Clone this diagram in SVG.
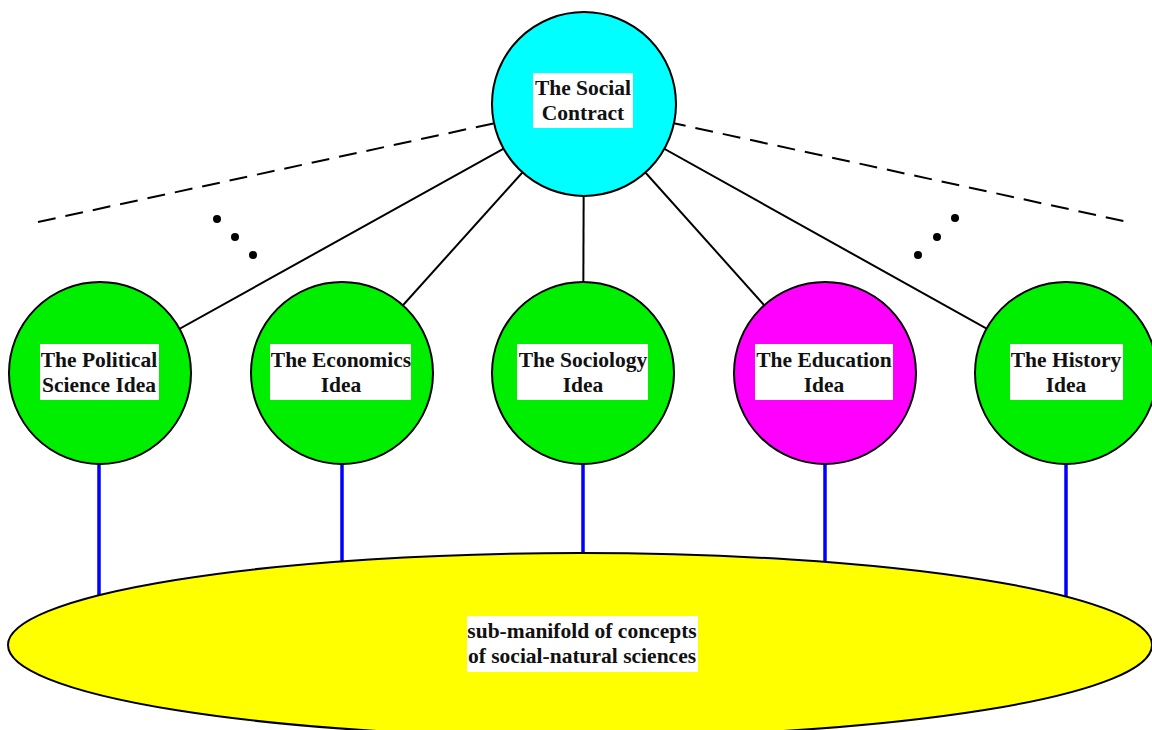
<svg xmlns="http://www.w3.org/2000/svg" width="1152" height="730" viewBox="0 0 1152 730">
<style>
.node{stroke:#000;stroke-width:2}
.lbl{font-family:"Liberation Serif","Times New Roman",serif;font-weight:bold;font-size:21.5px;fill:#111;text-anchor:middle}
.box{fill:#fff}
.edge{stroke:#000;stroke-width:2;fill:none}
.dash{stroke:#000;stroke-width:2;stroke-dasharray:18 10;fill:none}
.blue{stroke:#0000ff;stroke-width:3.5}
.dot{fill:#000}
</style>
<rect width="1152" height="730" fill="#fff"/>
<g id="connectors">
<line class="dash" x1="38" y1="222" x2="500" y2="122"/>
<line class="dash" x1="668" y1="122" x2="1128" y2="222"/>
<line class="edge" x1="584" y1="104" x2="100" y2="373"/>
<line class="edge" x1="584" y1="104" x2="342" y2="373"/>
<line class="edge" x1="584" y1="104" x2="583" y2="373"/>
<line class="edge" x1="584" y1="104" x2="825" y2="373"/>
<line class="edge" x1="584" y1="104" x2="1066" y2="373"/>
<line class="blue" x1="99" y1="464" x2="99" y2="600"/>
<line class="blue" x1="342" y1="464" x2="342" y2="566"/>
<line class="blue" x1="583" y1="464" x2="583" y2="558"/>
<line class="blue" x1="825" y1="464" x2="825" y2="566"/>
<line class="blue" x1="1066" y1="464" x2="1066" y2="600"/>
<circle class="dot" cx="217" cy="219" r="4"/>
<circle class="dot" cx="235" cy="237" r="4"/>
<circle class="dot" cx="253" cy="255" r="4"/>
<circle class="dot" cx="955" cy="218" r="4"/>
<circle class="dot" cx="937" cy="237" r="4"/>
<circle class="dot" cx="918" cy="255" r="4"/>
</g>
<g id="manifold">
<ellipse class="node" cx="580" cy="645" rx="572" ry="92" fill="#ffff00"/>
<rect class="box" x="467" y="616" width="231" height="56"/>
<text class="lbl" x="582" y="638">sub-manifold of concepts</text>
<text class="lbl" x="582" y="663">of social-natural sciences</text>
</g>
<g id="social-contract">
<circle class="node" cx="584" cy="104" r="92" fill="#00ffff"/>
<rect class="box" x="533" y="73" width="100" height="55"/>
<text class="lbl" x="583" y="95">The Social</text>
<text class="lbl" x="583" y="120">Contract</text>
</g>
<g id="political">
<circle class="node" cx="100" cy="373" r="91" fill="#00ee00"/>
<rect class="box" x="40" y="344" width="119" height="56"/>
<text class="lbl" x="99" y="367">The Political</text>
<text class="lbl" x="99" y="392">Science Idea</text>
</g>
<g id="economics">
<circle class="node" cx="342" cy="373" r="91" fill="#00ee00"/>
<rect class="box" x="270" y="344" width="141" height="56"/>
<text class="lbl" x="341" y="367">The Economics</text>
<text class="lbl" x="341" y="392">Idea</text>
</g>
<g id="sociology">
<circle class="node" cx="583" cy="373" r="91" fill="#00ee00"/>
<rect class="box" x="517" y="344" width="131" height="56"/>
<text class="lbl" x="583" y="367">The Sociology</text>
<text class="lbl" x="583" y="392">Idea</text>
</g>
<g id="education">
<circle class="node" cx="825" cy="373" r="91" fill="#ff00ff"/>
<rect class="box" x="755" y="344" width="138" height="56"/>
<text class="lbl" x="824" y="367">The Education</text>
<text class="lbl" x="824" y="392">Idea</text>
</g>
<g id="history">
<circle class="node" cx="1066" cy="373" r="91" fill="#00ee00"/>
<rect class="box" x="1010" y="344" width="113" height="56"/>
<text class="lbl" x="1066" y="367">The History</text>
<text class="lbl" x="1066" y="392">Idea</text>
</g>
</svg>
